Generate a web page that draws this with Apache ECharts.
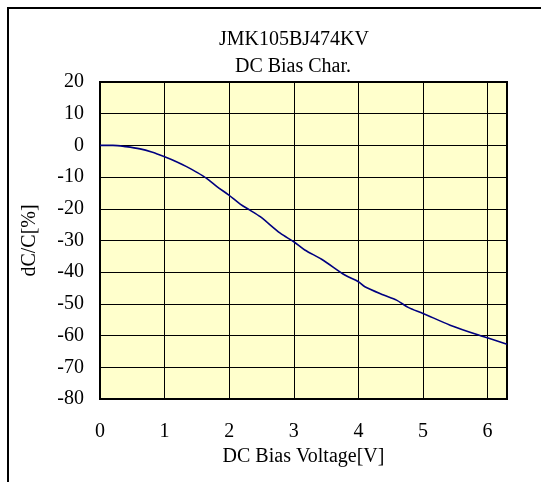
<!DOCTYPE html>
<html><head><meta charset="utf-8">
<script src="https://cdn.jsdelivr.net/npm/echarts@6/dist/echarts.min.js"></script>
<style>html,body{margin:0;padding:0;background:#fff}#c{width:541px;height:482px}</style>
</head><body><div id="c"></div>
<script>
var titleLines = ['JMK105BJ474KV', 'DC Bias Char.'];
var xTicks = [0, 1, 2, 3, 4, 5, 6];
var yTicks = [20, 10, 0, -10, -20, -30, -40, -50, -60, -70, -80];
var voltage = [0, 0.2, 0.4, 0.62, 0.8, 1.0, 1.2, 1.34, 1.5, 1.65, 1.81, 1.99, 2.17, 2.32, 2.48, 2.79, 3.0, 3.17, 3.43, 3.79, 4.0, 4.1, 4.39, 4.59, 4.77, 5.0, 5.42, 5.93, 6.3];
var capChange = [0, 0, -0.4, -1.1, -2.1, -3.6, -5.3, -6.7, -8.5, -10.4, -13, -15.6, -18.5, -20.4, -22.5, -27.7, -30.4, -33, -35.9, -40.9, -43, -44.6, -47.2, -48.8, -51.1, -53, -56.7, -60.3, -62.7];

var font = 'Liberation Serif';
var fs = 20;
var chart = echarts.init(document.getElementById('c'), null, {renderer: 'canvas'});
chart.setOption({
  animation: false,
  backgroundColor: '#fff',
  graphic: [
    {type: 'rect', shape: {x: 8, y: 8, width: 700, height: 700}, style: {fill: 'none', stroke: '#000', lineWidth: 2}, silent: true},
    {type: 'text', x: 294, y: 40, style: {text: titleLines[0], font: fs + 'px "' + font + '"', fill: '#000', textAlign: 'center', textVerticalAlign: 'middle'}},
    {type: 'text', x: 293, y: 67, style: {text: titleLines[1], font: fs + 'px "' + font + '"', fill: '#000', textAlign: 'center', textVerticalAlign: 'middle'}}
  ],
  grid: {left: 100, top: 82, right: 34, bottom: 83, show: true, backgroundColor: '#FFFFCC', borderColor: '#000', borderWidth: 2},
  xAxis: {
    type: 'value', min: 0, max: 6.3, interval: 1,
    name: 'DC Bias Voltage[V]', nameLocation: 'middle', nameGap: 48,
    nameTextStyle: {fontFamily: font, fontSize: fs, color: '#000'},
    axisLine: {show: true, onZero: false, lineStyle: {color: '#000', width: 2}},
    axisTick: {show: true, inside: true, length: 6, lineStyle: {color: '#000'}},
    axisLabel: {fontFamily: font, fontSize: fs, color: '#000', margin: 23, showMaxLabel: false,
      formatter: function(v){ return xTicks.indexOf(v) >= 0 ? String(v) : ''; }},
    splitLine: {show: true, lineStyle: {color: '#000', width: 1}}
  },
  yAxis: {
    type: 'value', min: -80, max: 20, interval: 10,
    name: 'dC/C[%]', nameLocation: 'middle', nameGap: 60, nameRotate: 90,
    nameTextStyle: {fontFamily: font, fontSize: fs, color: '#000'},
    axisLine: {show: true, onZero: false, lineStyle: {color: '#000', width: 2}},
    axisTick: {show: true, inside: true, length: 6, lineStyle: {color: '#000'}},
    axisLabel: {fontFamily: font, fontSize: fs, color: '#000', margin: 16,
      formatter: function(v){ return yTicks.indexOf(v) >= 0 ? String(v) : ''; }},
    splitLine: {show: true, lineStyle: {color: '#000', width: 1}}
  },
  series: [{
    type: 'line', showSymbol: false, smooth: 0.3,
    data: voltage.map(function(v, i){ return [v, capChange[i]]; }),
    lineStyle: {color: '#000080', width: 1.6}
  }]
});
</script></body></html>
